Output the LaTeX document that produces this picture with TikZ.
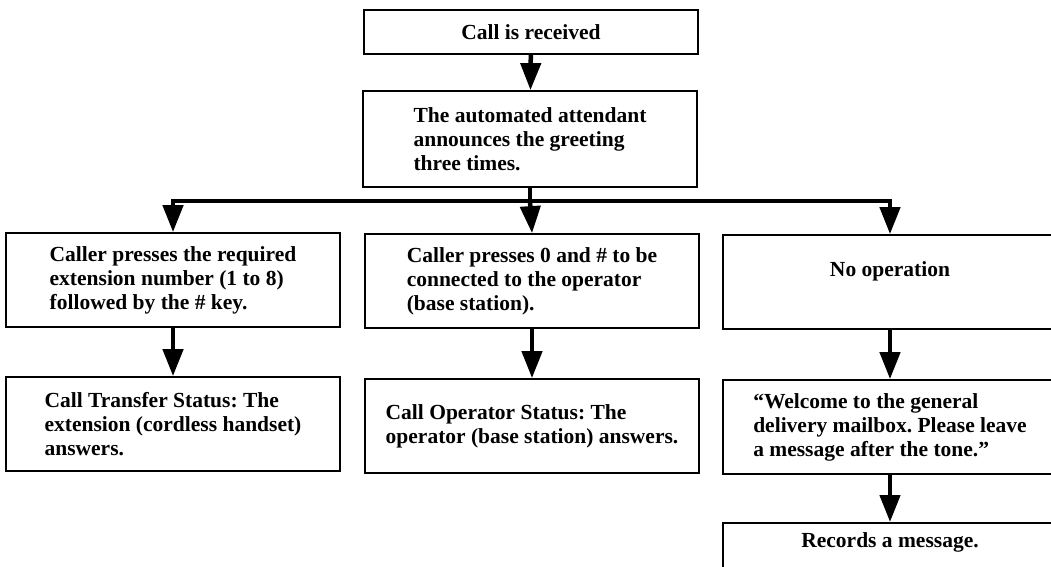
\documentclass[tikz,border=0pt]{standalone}
\usepackage{fontspec}
\setmainfont{Liberation Serif}
\usetikzlibrary{arrows.meta}

\begin{document}
\frenchspacing
\begin{tikzpicture}[x=1pt,y=-1pt,
    box/.style={draw,line width=1.8pt,minimum width=334pt,minimum height=94pt,
      inner sep=0pt,align=left,font=\fontsize{21.5}{24}\selectfont\bfseries},
    bar/.style={line width=4.5pt},
    flow/.style={line width=4.5pt,-{Triangle[width=20pt,length=27pt]}}]
    \useasboundingbox (0,0) rectangle (1051,566);
    \clip (0,0) rectangle (1051,566);
    % top of the chart
    \node[box,minimum height=44pt] (recv) at (531,32) {Call is received};
    \node[box,minimum height=96pt] (greet) at (530,139)
      {The automated attendant\\announces the greeting\\three times.};
    % first row
    \node[box] (ext) at (173,280)
      {Caller presses the required\\extension number (1 to 8)\\followed by the \# key.};
    \node[box] (oper) at (532,281)
      {Caller presses 0 and \# to be\\connected to the operator\\(base station).};
    \node[box,text depth=26pt] (noop) at (890,282) {No operation};
    % second row
    \node[box] (transfer) at (173,424)
      {Call Transfer Status: The\\extension (cordless handset)\\answers.};
    \node[box] (opstat) at (532,426)
      {Call Operator Status: The\\operator (base station) answers.};
    \node[box] (welcome) at (890,427)
      {``Welcome to the general\\delivery mailbox. Please leave\\a message after the tone.''};
    \node[box,anchor=north,text depth=60pt] (record) at (890,522) {Records a message.};
    % arrows
    \coordinate (split) at (greet.south |- 0,201);
    \draw[flow] (recv) -- (greet);
    \draw[bar] (greet.south) -- (split);
    \draw[flow] (split) -| (ext.north);
    \draw[flow] (split) -- (oper.north);
    \draw[flow] (split) -| (noop.north);
    \draw[flow] (ext) -- (transfer);
    \draw[flow] (oper) -- (opstat);
    \draw[flow] (noop) -- (welcome);
    \draw[flow] (welcome) -- (record);
\end{tikzpicture}
\end{document}
